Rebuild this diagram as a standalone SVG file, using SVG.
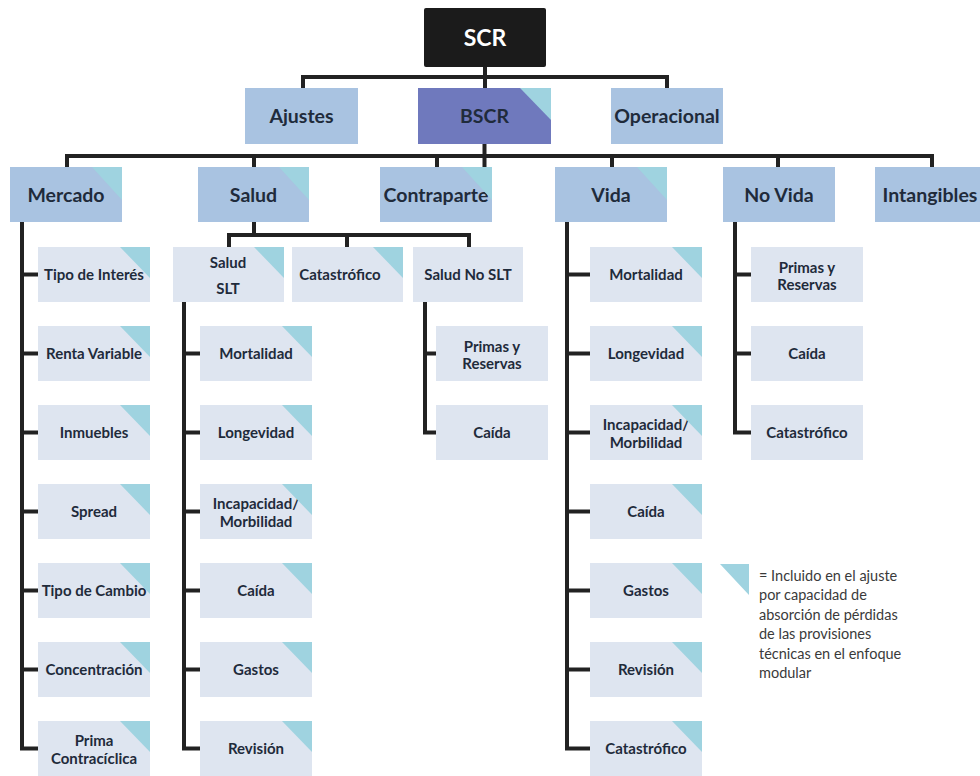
<svg xmlns="http://www.w3.org/2000/svg" width="980" height="776" viewBox="0 0 980 776">
<defs>
<style>
.l1{fill:#a9c3e1}
.bs{fill:#6f79bd}
.lf{fill:#dee5f0}
.tri{fill:#9fd3e0}
.top{fill:#1b1b1b}
text{font-family:Lato,"Liberation Sans",sans-serif;text-anchor:middle}
.t1{font-size:19.5px;font-weight:bold;fill:#1f2b3b}
.t0{font-size:23px;font-weight:bold;fill:#ffffff}
.t3{font-size:15px;font-weight:bold;fill:#1f2b3b}
.lg{font-size:14.5px;fill:#3a3a3a;text-anchor:start}
.conn{stroke:#222222;stroke-width:4;fill:none;stroke-linejoin:miter}
</style>
</defs>
<rect width="980" height="776" fill="#ffffff"/>

<g id="connectors" class="conn">
<path d="M485,67 V88 M303,88 V77 H667 V88"/>
<path d="M484.5,144 V167 M67,167 V156 H932 V167 M254,156 V167 M437,156 V167 M612,156 V167 M778,156 V167"/>
<path d="M254,222 V235 M229,247 V235 H469 V247 M347,235 V247"/>
<path d="M22,222 V748.5 H38 M22,274.5 H38 M22,353.5 H38 M22,432.5 H38 M22,511.5 H38 M22,590.5 H38 M22,669.5 H38"/>
<path d="M184,302 V748.5 H200 M184,353.5 H200 M184,432.5 H200 M184,511.5 H200 M184,590.5 H200 M184,669.5 H200"/>
<path d="M425,302 V432.5 H436 M425,353.5 H436"/>
<path d="M567,222 V748.5 H590 M567,274.5 H590 M567,353.5 H590 M567,432.5 H590 M567,511.5 H590 M567,590.5 H590 M567,669.5 H590"/>
<path d="M735,222 V432.5 H751 M735,274.5 H751 M735,353.5 H751"/>
</g>

<g id="scr"><rect class="top" x="424" y="8" width="122" height="59" rx="2"/><text class="t0" x="485" y="45.5">SCR</text></g>

<g id="ajustes"><rect class="l1" x="245" y="88" width="113" height="56"/><text class="t1" x="301.5" y="122.5">Ajustes</text></g>
<g id="bscr"><rect class="bs" x="418" y="88" width="133" height="56"/><text class="t1" x="484.5" y="122.5">BSCR</text><polygon class="tri" points="520,88 551,88 551,120"/></g>
<g id="operacional"><rect class="l1" x="611" y="88" width="112" height="56"/><text class="t1" x="667" y="122.5">Operacional</text></g>

<g id="mercado"><rect class="l1" x="10" y="167" width="112" height="55"/><text class="t1" x="66" y="201.5">Mercado</text><polygon class="tri" points="92,167 122,167 122,200"/></g>
<g id="salud"><rect class="l1" x="198" y="167" width="111" height="55"/><text class="t1" x="253.5" y="201.5">Salud</text><polygon class="tri" points="279,167 309,167 309,200"/></g>
<g id="contraparte"><rect class="l1" x="380" y="167" width="112" height="55"/><text class="t1" x="436" y="201.5">Contraparte</text><polygon class="tri" points="462,167 492,167 492,200"/></g>
<g id="vida"><rect class="l1" x="555" y="167" width="112" height="55"/><text class="t1" x="611" y="201.5">Vida</text><polygon class="tri" points="637,167 667,167 667,200"/></g>
<g id="novida"><rect class="l1" x="723" y="167" width="112" height="55"/><text class="t1" x="779" y="201.5">No Vida</text></g>
<g id="intangibles"><rect class="l1" x="875" y="167" width="112" height="55"/><text class="t1" x="930" y="201.5">Intangibles</text></g>

<g id="m1"><rect class="lf" x="38" y="247" width="112" height="55"/><text class="t3" x="94" y="280">Tipo de Interés</text><polygon class="tri" points="120,247 150,247 150,278"/></g>
<g id="m2"><rect class="lf" x="38" y="326" width="112" height="55"/><text class="t3" x="94" y="359">Renta Variable</text><polygon class="tri" points="120,326 150,326 150,357"/></g>
<g id="m3"><rect class="lf" x="38" y="405" width="112" height="55"/><text class="t3" x="94" y="438">Inmuebles</text><polygon class="tri" points="120,405 150,405 150,436"/></g>
<g id="m4"><rect class="lf" x="38" y="484" width="112" height="55"/><text class="t3" x="94" y="517">Spread</text><polygon class="tri" points="120,484 150,484 150,515"/></g>
<g id="m5"><rect class="lf" x="38" y="563" width="112" height="55"/><text class="t3" x="94" y="596">Tipo de Cambio</text><polygon class="tri" points="120,563 150,563 150,594"/></g>
<g id="m6"><rect class="lf" x="38" y="642" width="112" height="55"/><text class="t3" x="94" y="675">Concentración</text><polygon class="tri" points="120,642 150,642 150,673"/></g>
<g id="m7"><rect class="lf" x="38" y="721" width="112" height="55"/><text class="t3" x="94" y="745.5">Prima</text><text class="t3" x="94" y="763.5">Contracíclica</text><polygon class="tri" points="120,721 150,721 150,752"/></g>

<g id="saludslt"><rect class="lf" x="173" y="247" width="111" height="55"/><text class="t3" x="228" y="267.5">Salud</text><text class="t3" x="228" y="293.5">SLT</text><polygon class="tri" points="254,247 284,247 284,278"/></g>
<g id="saludcat"><rect class="lf" x="292" y="247" width="111" height="55"/><text class="t3" x="340" y="280">Catastrófico</text><polygon class="tri" points="373,247 403,247 403,278"/></g>
<g id="saludnoslt"><rect class="lf" x="413" y="247" width="110" height="55"/><text class="t3" x="468" y="280">Salud No SLT</text></g>

<g id="s1"><rect class="lf" x="200" y="326" width="112" height="55"/><text class="t3" x="256" y="359">Mortalidad</text><polygon class="tri" points="282,326 312,326 312,357"/></g>
<g id="s2"><rect class="lf" x="200" y="405" width="112" height="55"/><text class="t3" x="256" y="438">Longevidad</text><polygon class="tri" points="282,405 312,405 312,436"/></g>
<g id="s3"><rect class="lf" x="200" y="484" width="112" height="55"/><text class="t3" x="256" y="508.5">Incapacidad/</text><text class="t3" x="256" y="526.5">Morbilidad</text><polygon class="tri" points="282,484 312,484 312,515"/></g>
<g id="s4"><rect class="lf" x="200" y="563" width="112" height="55"/><text class="t3" x="256" y="596">Caída</text><polygon class="tri" points="282,563 312,563 312,594"/></g>
<g id="s5"><rect class="lf" x="200" y="642" width="112" height="55"/><text class="t3" x="256" y="675">Gastos</text><polygon class="tri" points="282,642 312,642 312,673"/></g>
<g id="s6"><rect class="lf" x="200" y="721" width="112" height="55"/><text class="t3" x="256" y="754">Revisión</text><polygon class="tri" points="282,721 312,721 312,752"/></g>

<g id="n1"><rect class="lf" x="436" y="326" width="112" height="55"/><text class="t3" x="492" y="351.5">Primas y</text><text class="t3" x="492" y="368.5">Reservas</text></g>
<g id="n2"><rect class="lf" x="436" y="405" width="112" height="55"/><text class="t3" x="492" y="438">Caída</text></g>

<g id="v1"><rect class="lf" x="590" y="247" width="112" height="55"/><text class="t3" x="646" y="280">Mortalidad</text><polygon class="tri" points="672,247 702,247 702,278"/></g>
<g id="v2"><rect class="lf" x="590" y="326" width="112" height="55"/><text class="t3" x="646" y="359">Longevidad</text><polygon class="tri" points="672,326 702,326 702,357"/></g>
<g id="v3"><rect class="lf" x="590" y="405" width="112" height="55"/><text class="t3" x="646" y="429.5">Incapacidad/</text><text class="t3" x="646" y="447.5">Morbilidad</text><polygon class="tri" points="672,405 702,405 702,436"/></g>
<g id="v4"><rect class="lf" x="590" y="484" width="112" height="55"/><text class="t3" x="646" y="517">Caída</text><polygon class="tri" points="672,484 702,484 702,515"/></g>
<g id="v5"><rect class="lf" x="590" y="563" width="112" height="55"/><text class="t3" x="646" y="596">Gastos</text><polygon class="tri" points="672,563 702,563 702,594"/></g>
<g id="v6"><rect class="lf" x="590" y="642" width="112" height="55"/><text class="t3" x="646" y="675">Revisión</text><polygon class="tri" points="672,642 702,642 702,673"/></g>
<g id="v7"><rect class="lf" x="590" y="721" width="112" height="55"/><text class="t3" x="646" y="754">Catastrófico</text><polygon class="tri" points="672,721 702,721 702,752"/></g>

<g id="nv1"><rect class="lf" x="751" y="247" width="112" height="55"/><text class="t3" x="807" y="272.5">Primas y</text><text class="t3" x="807" y="289.5">Reservas</text></g>
<g id="nv2"><rect class="lf" x="751" y="326" width="112" height="55"/><text class="t3" x="807" y="359">Caída</text></g>
<g id="nv3"><rect class="lf" x="751" y="405" width="112" height="55"/><text class="t3" x="807" y="438">Catastrófico</text></g>

<g id="legend">
<polygon class="tri" points="720,564 749,564 749,595"/>
<text class="lg" x="759" y="580.5">= Incluido en el ajuste</text>
<text class="lg" x="759" y="600">por capacidad de</text>
<text class="lg" x="759" y="619.5">absorción de pérdidas</text>
<text class="lg" x="759" y="639">de las provisiones</text>
<text class="lg" x="759" y="658.5">técnicas en el enfoque</text>
<text class="lg" x="759" y="678">modular</text>
</g>
</svg>
